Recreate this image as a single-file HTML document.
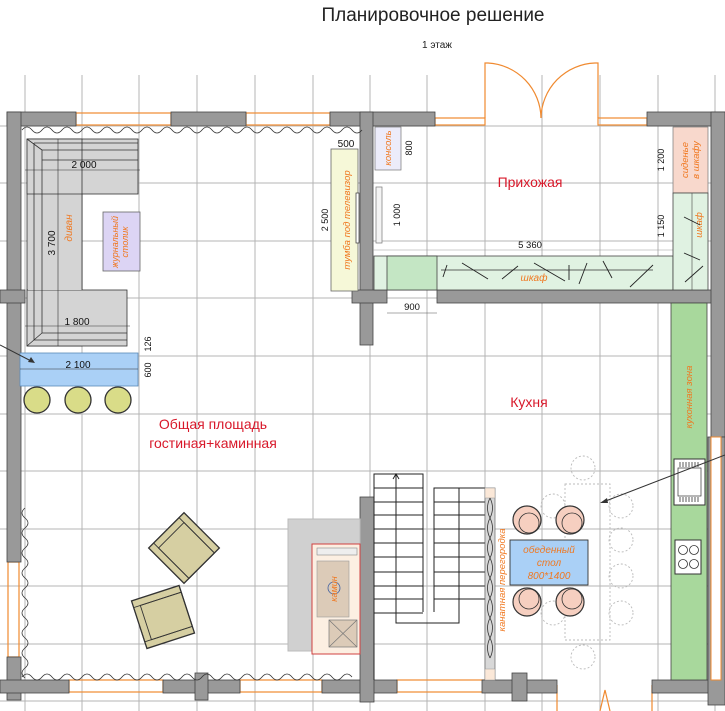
<!DOCTYPE html>
<html><head><meta charset="utf-8"><style>html,body{margin:0;padding:0;background:#fff}svg{display:block}text{font-family:"Liberation Sans",sans-serif}</style></head><body>
<svg width="725" height="711" viewBox="0 0 725 711" xmlns="http://www.w3.org/2000/svg">
<rect width="725" height="711" fill="#fff"/>
<text x="433" y="21" font-size="19" text-anchor="middle" fill="#222" font-family="DejaVu Sans, sans-serif">Планировочное решение</text>
<text x="437" y="48" font-size="10" text-anchor="middle" fill="#222">1 этаж</text>
<g stroke="#b4b4b4" stroke-width="1">
<line x1="25" y1="75" x2="25" y2="711"/><line x1="82" y1="75" x2="82" y2="711"/><line x1="139" y1="75" x2="139" y2="711"/><line x1="197" y1="75" x2="197" y2="711"/><line x1="255" y1="75" x2="255" y2="711"/><line x1="313" y1="75" x2="313" y2="711"/><line x1="370" y1="75" x2="370" y2="711"/><line x1="427" y1="75" x2="427" y2="711"/><line x1="485" y1="75" x2="485" y2="711"/><line x1="542" y1="75" x2="542" y2="711"/><line x1="600" y1="75" x2="600" y2="711"/><line x1="658" y1="75" x2="658" y2="711"/><line x1="715" y1="75" x2="715" y2="711"/>
<line x1="0" y1="126" x2="725" y2="126"/><line x1="0" y1="183" x2="725" y2="183"/><line x1="0" y1="241" x2="725" y2="241"/><line x1="0" y1="298" x2="725" y2="298"/><line x1="0" y1="356" x2="725" y2="356"/><line x1="0" y1="414" x2="725" y2="414"/><line x1="0" y1="471" x2="725" y2="471"/><line x1="0" y1="529" x2="725" y2="529"/><line x1="0" y1="586" x2="725" y2="586"/><line x1="0" y1="644" x2="725" y2="644"/><line x1="0" y1="701" x2="725" y2="701"/>
</g>
<g fill="none" stroke="#f08a30" stroke-width="1.2">
<rect x="76" y="113" width="95" height="12"/><rect x="246" y="113" width="84" height="12"/>
<rect x="435" y="118" width="50" height="7"/><rect x="598" y="118" width="49" height="7"/>
<path d="M485 118 V63 H488 A56 56 0 0 1 541 118"/><path d="M598 118 V63 H595 A56 56 0 0 0 541 118"/>
<rect x="8" y="562" width="11" height="95"/>
<rect x="69" y="680" width="94" height="12"/><rect x="240" y="680" width="82" height="12"/><rect x="397" y="680" width="88" height="12"/>
<rect x="711" y="437" width="10" height="250"/>
<path d="M557 685 V711 M652 685 V711 M600 711 L605 690 L610 711"/>
</g>
<g fill="#999" stroke="#444" stroke-width="0.8">
<rect x="7" y="112" width="69" height="14"/><rect x="171" y="112" width="75" height="14"/><rect x="330" y="112" width="105" height="14"/><rect x="647" y="112" width="78" height="14"/>
<rect x="7" y="112" width="14" height="450"/><rect x="0" y="290" width="25" height="13"/>
<rect x="7" y="657" width="14" height="43"/>
<rect x="0" y="680" width="69" height="13"/><rect x="163" y="680" width="77" height="13"/><rect x="195" y="673" width="13" height="27"/>
<rect x="322" y="680" width="75" height="13"/>
<rect x="360" y="112" width="13" height="233"/><rect x="352" y="290" width="35" height="13"/>
<rect x="437" y="290" width="288" height="13"/>
<rect x="711" y="112" width="14" height="325"/>
<rect x="360" y="497" width="14" height="205"/>
<rect x="482" y="680" width="75" height="13"/><rect x="512" y="673" width="15" height="28"/>
<rect x="652" y="680" width="73" height="13"/><rect x="708" y="437" width="17" height="268"/>
</g>
<rect x="711" y="437" width="10" height="243" fill="#fff" stroke="#f08a30"/>
<path d="M22 130 q5 -6 10 0 t10 0 t10 0 t10 0 t10 0 t10 0 t10 0 t10 0 t10 0 t10 0 t10 0 t10 0 t10 0 t10 0 t10 0 t10 0 t10 0 t10 0 t10 0 t10 0 t10 0 t10 0 t10 0 t10 0 t10 0 t10 0 t10 0 t10 0 t10 0 t10 0 t10 0 t10 0 t10 0 t10 0" fill="none" stroke="#333" stroke-width="0.8"/>
<path d="M22 677 q5 -6 10 0 t10 0 t10 0 t10 0 t10 0 t10 0 t10 0 t10 0 t10 0 t10 0 t10 0 t10 0 t10 0 t10 0 t10 0 t10 0 t10 0 t10 0 t10 0 t10 0 t10 0 t10 0 t10 0 t10 0 t10 0 t10 0 t10 0 t10 0 t10 0 t10 0 t10 0 t10 0 t10 0" fill="none" stroke="#333" stroke-width="0.8"/>
<path d="M25 508 q-6 5 0 10 t0 10 t0 10 t0 10 t0 10 t0 10 t0 10 t0 10 t0 10 t0 10 t0 10 t0 10 t0 10 t0 10 t0 10 t0 10 t0 10" fill="none" stroke="#333" stroke-width="0.8"/>
<g fill="#d4d4d4" stroke="#333" stroke-width="0.8">
<rect x="27" y="139" width="111" height="55"/><rect x="27" y="139" width="55" height="207"/><rect x="27" y="290" width="100" height="56"/>
</g>
<path d="M42 150 H138 M42 150 V333 M42 333 H127 M34 143 V340 H127 M34 143 H138 M27 139 L42 150 M27 346 L42 333 M138 160 H42 M82 194 V290" fill="none" stroke="#333" stroke-width="0.8"/>
<rect x="28" y="194" width="54" height="96" fill="#d4d4d4" stroke="none"/>
<path d="M27 194 H82 V290 M42 194 V290 M34 194 V290" fill="none" stroke="#333" stroke-width="0.8"/>
<text x="84" y="168" font-size="10" text-anchor="middle" fill="#111">2 000</text>
<text x="77" y="325" font-size="10" text-anchor="middle" fill="#111">1 800</text>
<text transform="translate(55,243) rotate(-90)" font-size="10" text-anchor="middle" fill="#111">3 700</text>
<text transform="translate(72,228) rotate(-90)" font-size="10" text-anchor="middle" fill="#f07820" font-style="italic">диван</text>
<line x1="58" y1="139" x2="58" y2="346" stroke="#333" stroke-width="0.6"/>
<line x1="25" y1="170" x2="140" y2="170" stroke="#333" stroke-width="0.6"/>
<line x1="25" y1="326" x2="130" y2="326" stroke="#333" stroke-width="0.6"/>
<rect x="103" y="212" width="37" height="59" fill="#dcd4f4" stroke="#666" stroke-width="0.8"/>
<text transform="translate(121,242) rotate(-90)" font-size="9" text-anchor="middle" fill="#f07820" font-style="italic"><tspan x="0" dy="-3">журнальный</tspan><tspan x="0" dy="10">столик</tspan></text>
<rect x="20" y="353" width="118" height="33" fill="#aad0f6" stroke="#5a8ab8" stroke-width="0.8"/>
<line x1="20" y1="369" x2="138" y2="369" stroke="#333" stroke-width="0.6"/>
<text x="78" y="368" font-size="10" text-anchor="middle" fill="#111">2 100</text>
<text transform="translate(151,370) rotate(-90)" font-size="9" text-anchor="middle" fill="#111">600</text>
<text transform="translate(151,344) rotate(-90)" font-size="9" text-anchor="middle" fill="#111">126</text>
<line x1="0" y1="345" x2="33" y2="362" stroke="#333"/><path d="M35 363 l-7 -1 l3 -5z" fill="#333"/>
<g fill="#d9dc88" stroke="#333" stroke-width="1.3"><circle cx="37" cy="400" r="13"/><circle cx="78" cy="400" r="13"/><circle cx="118" cy="400" r="13"/></g>
<rect x="331" y="149" width="27" height="142" fill="#f6f8d8" stroke="#666" stroke-width="0.8"/>
<text x="346" y="147" font-size="10" text-anchor="middle" fill="#111">500</text>
<text transform="translate(328,220) rotate(-90)" font-size="9" text-anchor="middle" fill="#111">2 500</text>
<text transform="translate(350,220) rotate(-90)" font-size="9.5" text-anchor="middle" fill="#f07820" font-style="italic">тумба под телевизор</text>
<rect x="356" y="193" width="3" height="50" fill="#fff" stroke="#333" stroke-width="0.7"/>
<rect x="375" y="127" width="26" height="43" fill="#ececfa" stroke="#777" stroke-width="0.7"/>
<text transform="translate(391,148) rotate(-90)" font-size="9.5" text-anchor="middle" fill="#f07820" font-style="italic">консоль</text>
<text transform="translate(412,148) rotate(-90)" font-size="9" text-anchor="middle" fill="#111">800</text>
<rect x="376" y="187" width="6" height="56" fill="#f4f4f4" stroke="#777" stroke-width="0.7"/>
<text transform="translate(400,215) rotate(-90)" font-size="9" text-anchor="middle" fill="#111">1 000</text>
<text x="530" y="187" font-size="14" text-anchor="middle" fill="#d8182a">Прихожая</text>
<line x1="373" y1="250" x2="708" y2="250" stroke="#999" stroke-width="0.6"/>
<text x="530" y="248" font-size="9.5" text-anchor="middle" fill="#111">5 360</text>
<text x="690" y="248" font-size="9.5" text-anchor="middle" fill="#111">600</text>
<rect x="374" y="256" width="299" height="34" fill="#e0f2e2" stroke="#444" stroke-width="0.8"/>
<rect x="387" y="256" width="50" height="34" fill="#c4e6c4" stroke="#444" stroke-width="0.8"/>
<line x1="441" y1="270" x2="653" y2="270" stroke="#333" stroke-width="0.8"/>
<g stroke="#222" stroke-width="0.9"><line x1="443" y1="277" x2="447" y2="265"/><line x1="462" y1="263" x2="488" y2="279"/><line x1="502" y1="279" x2="518" y2="266"/><line x1="534" y1="263" x2="565" y2="281"/><line x1="569" y1="265" x2="569" y2="280"/><line x1="579" y1="284" x2="587" y2="263"/><line x1="603" y1="261" x2="612" y2="278"/><line x1="630" y1="287" x2="653" y2="265"/></g>
<text x="534" y="281" font-size="10" text-anchor="middle" fill="#f07820" font-style="italic">шкаф</text>
<rect x="673" y="127" width="35" height="66" fill="#f8d8cc" stroke="#777" stroke-width="0.7"/>
<text transform="translate(690,160) rotate(-90)" font-size="9.5" text-anchor="middle" fill="#f07820" font-style="italic"><tspan x="0" dy="-2">сиденье</tspan><tspan x="0" dy="11">в шкафу</tspan></text>
<rect x="673" y="193" width="35" height="97" fill="#e0f2e2" stroke="#444" stroke-width="0.8"/>
<line x1="692" y1="193" x2="692" y2="290" stroke="#444" stroke-width="0.6"/>
<text transform="translate(702,225) rotate(-90)" font-size="9.5" text-anchor="middle" fill="#f07820" font-style="italic">шкаф</text>
<g stroke="#222" stroke-width="0.9"><line x1="684" y1="217" x2="700" y2="225"/><line x1="684" y1="253" x2="700" y2="260"/><line x1="685" y1="282" x2="703" y2="266"/></g>
<text transform="translate(664,160) rotate(-90)" font-size="9" text-anchor="middle" fill="#111">1 200</text>
<text transform="translate(664,226) rotate(-90)" font-size="9" text-anchor="middle" fill="#111">1 150</text>
<line x1="387" y1="313" x2="437" y2="313" stroke="#555" stroke-width="0.6"/>
<text x="412" y="310" font-size="9.5" text-anchor="middle" fill="#111">900</text>
<text x="213" y="429" font-size="14" text-anchor="middle" fill="#d8182a">Общая площадь</text>
<text x="213" y="448" font-size="14" text-anchor="middle" fill="#d8182a">гостиная+каминная</text>
<text x="529" y="407" font-size="14" text-anchor="middle" fill="#d8182a">Кухня</text>
<g transform="translate(184,548) rotate(45)" stroke="#333" stroke-width="1.3" fill="#d6cfa2"><rect x="-25" y="-25" width="50" height="50"/><rect x="-25" y="-18" width="50" height="36" fill="none" stroke-width="0.9"/><rect x="-18" y="-18" width="43" height="36" fill="none" stroke-width="0.9"/></g>
<g transform="translate(163,617) rotate(-18)" stroke="#333" stroke-width="1.3" fill="#d6cfa2"><rect x="-25" y="-25" width="50" height="50"/><rect x="-25" y="-18" width="50" height="36" fill="none" stroke-width="0.9"/><rect x="-18" y="-18" width="43" height="36" fill="none" stroke-width="0.9"/></g>
<rect x="288" y="519" width="72" height="132" fill="#d0d0d0" stroke="#bbb"/>
<rect x="312" y="544" width="48" height="110" fill="#fcefe2" stroke="#d04040" stroke-width="1"/>
<rect x="317" y="548" width="40" height="7" fill="#eee" stroke="#888" stroke-width="0.6"/>
<rect x="317" y="561" width="32" height="56" fill="#dccbb8" stroke="#999" stroke-width="0.6"/>
<circle cx="334" cy="588" r="6" fill="none" stroke="#4060a0" stroke-width="0.8"/>
<text transform="translate(337,589) rotate(-90)" font-size="9" text-anchor="middle" fill="#f07820" font-style="italic">камин</text>
<rect x="329" y="620" width="28" height="27" fill="#dccbb8" stroke="#777" stroke-width="0.7"/>
<path d="M329 620 L357 647 M357 620 L329 647" stroke="#777" stroke-width="0.7"/>
<g fill="none" stroke="#222" stroke-width="1">
<path d="M374 680 V474 H423 V612 M434 612 V488 H485 M396 474 V623 H459 V488"/>
<path d="M374 488 H423 M374 502 H423 M374 515 H423 M374 529 H423 M374 543 H423 M374 557 H423 M374 572 H423 M374 586 H423 M374 599 H423 M374 613 H423"/>
<path d="M434 502 H485 M434 515 H485 M434 529 H485 M434 543 H485 M434 557 H485 M434 572 H485 M434 586 H485 M434 599 H485"/>
<path d="M393 479 L396 474 L399 479"/>
</g>
<rect x="485" y="488" width="10" height="192" fill="#d8d8d8" stroke="#666" stroke-width="0.7"/>
<rect x="485" y="488" width="10" height="10" fill="#fbe8d8" stroke="#999" stroke-width="0.5"/>
<rect x="485" y="669" width="10" height="11" fill="#fbe8d8" stroke="#999" stroke-width="0.5"/>
<path d="M490 498 q-5 10 0 20 t0 20 t0 20 t0 20 t0 20 t0 20 t0 20 t0 20 M490 498 q5 10 0 20 t0 20 t0 20 t0 20 t0 20 t0 20 t0 20 t0 20" fill="none" stroke="#333" stroke-width="0.8"/>
<text transform="translate(505,580) rotate(-90)" font-size="9.5" text-anchor="middle" fill="#f07820" font-style="italic">канатная перегородка</text>
<g fill="none" stroke="#bbb" stroke-dasharray="2,2" stroke-width="0.9">
<rect x="565" y="484" width="45" height="156"/>
<circle cx="583" cy="468" r="12"/><circle cx="583" cy="657" r="12"/>
<circle cx="621" cy="506" r="12"/><circle cx="621" cy="540" r="12"/><circle cx="621" cy="576" r="12"/><circle cx="621" cy="613" r="12"/>
<circle cx="553" cy="506" r="12"/><circle cx="553" cy="613" r="12"/>
</g>
<g fill="#f6cfc0" stroke="#333" stroke-width="1.2"><circle cx="527" cy="520" r="14"/><circle cx="570" cy="520" r="14"/><circle cx="527" cy="602" r="14"/><circle cx="570" cy="602" r="14"/></g>
<g fill="none" stroke="#333" stroke-width="0.8"><circle cx="529" cy="523" r="10"/><circle cx="572" cy="523" r="10"/><circle cx="529" cy="599" r="10"/><circle cx="572" cy="599" r="10"/></g>
<rect x="510" y="540" width="78" height="45" fill="#aad0f6" stroke="#333" stroke-width="0.9"/>
<text x="549" y="553" font-size="10" text-anchor="middle" fill="#f07820" font-style="italic">обеденный</text>
<text x="549" y="566" font-size="10" text-anchor="middle" fill="#f07820" font-style="italic">стол</text>
<text x="549" y="579" font-size="10" text-anchor="middle" fill="#f07820" font-style="italic">800*1400</text>
<rect x="671" y="303" width="36" height="377" fill="#a8d89c" stroke="#444" stroke-width="0.8"/>
<text transform="translate(692,397) rotate(-90)" font-size="9.5" text-anchor="middle" fill="#f07820" font-style="italic">кухонная зона</text>
<rect x="674" y="459" width="31" height="46" fill="#fff" stroke="#333"/>
<rect x="678" y="468" width="23" height="28" fill="#fff" stroke="#333" stroke-width="0.7"/>
<path d="M680 462 v5 M683 462 v5 M686 462 v5 M689 462 v5 M692 462 v5 M695 462 v5 M698 462 v5 M680 497 v5 M683 497 v5 M686 497 v5 M689 497 v5 M692 497 v5 M695 497 v5 M698 497 v5" stroke="#333" stroke-width="0.8"/>
<rect x="675" y="540" width="26" height="34" fill="#fff" stroke="#333"/>
<g fill="none" stroke="#333" stroke-width="0.8"><circle cx="683" cy="550" r="4.5"/><circle cx="694" cy="550" r="4.5"/><circle cx="683" cy="564" r="4.5"/><circle cx="694" cy="564" r="4.5"/></g>
<line x1="725" y1="455" x2="603" y2="502" stroke="#333"/><path d="M600 503 l7 -5 l1 5z" fill="#333"/>
</svg>
</body></html>
